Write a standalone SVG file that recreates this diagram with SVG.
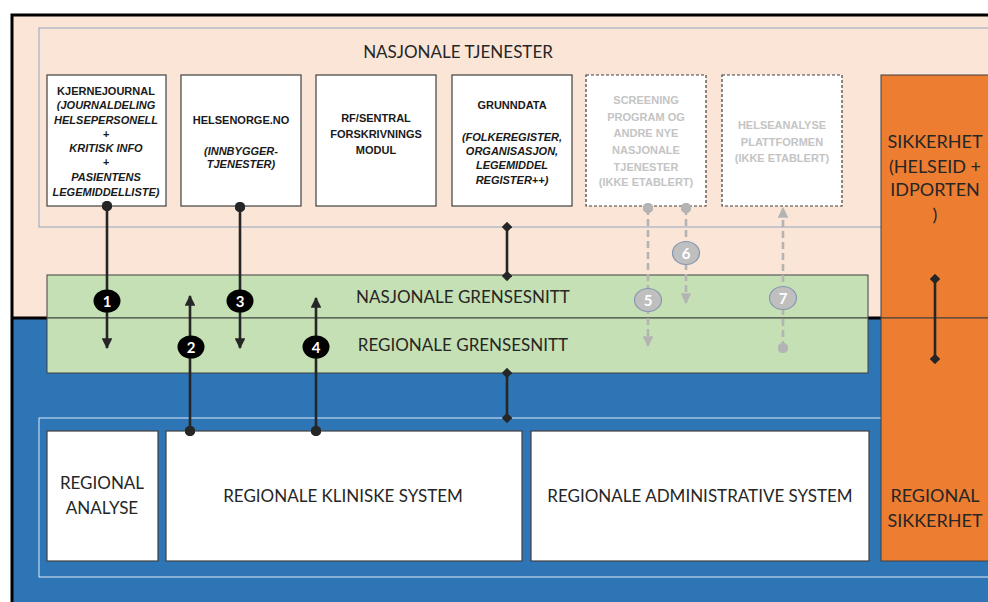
<svg xmlns="http://www.w3.org/2000/svg" width="988" height="602" viewBox="0 0 988 602">
<defs>
<style>
.box{fill:#fff;stroke:#404040;stroke-width:1.2}
.dbox{fill:#fff;stroke:#404040;stroke-width:1.2;stroke-dasharray:3 2}
.t{font-family:Lato,"Open Sans","Liberation Sans",sans-serif;fill:#262626;text-anchor:middle}
.s{font-family:"Liberation Sans",Arial,sans-serif;fill:#1a1a1a;text-anchor:middle;font-weight:bold;font-size:11px}
.bi{font-style:italic}
.g{font-family:"Liberation Sans",Arial,sans-serif;fill:#C4C4C4;text-anchor:middle;font-weight:bold;font-size:11px}
.big{font-size:17px}
.c{stroke:#262626;stroke-width:2.6;fill:none}
.gc{stroke:#B4B4B4;stroke-width:2.6;fill:none;stroke-dasharray:7 4}
.badge{fill:#000}
.gbadge{fill:#BFBFBF;stroke:#8497B0;stroke-width:1.2}
.bt{font-family:Lato,"Liberation Sans",sans-serif;font-weight:bold;font-size:15px;fill:#fff;text-anchor:middle}
</style>
<marker id="arr" viewBox="0 0 10 10" refX="9" refY="5" markerWidth="4.2" markerHeight="4.2" orient="auto"><path d="M0,0L10,5L0,10z" fill="#262626"/></marker>
<marker id="dot" viewBox="0 0 10 10" refX="5" refY="5" markerWidth="4" markerHeight="4"><circle cx="5" cy="5" r="5" fill="#262626"/></marker>
<marker id="dia" viewBox="0 0 10 10" refX="5" refY="5" markerWidth="4" markerHeight="4"><path d="M5,0L10,5L5,10L0,5z" fill="#262626"/></marker>
<marker id="garr" viewBox="0 0 10 10" refX="9" refY="5" markerWidth="4.2" markerHeight="4.2" orient="auto"><path d="M0,0L10,5L0,10z" fill="#B4B4B4"/></marker>
<marker id="gdot" viewBox="0 0 10 10" refX="5" refY="5" markerWidth="4" markerHeight="4"><circle cx="5" cy="5" r="5" fill="#B4B4B4"/></marker>
</defs>
<rect width="988" height="602" fill="#fff"/>
<rect x="12" y="15" width="976" height="303" fill="#FBE5D6"/>
<rect x="12" y="318" width="976" height="284" fill="#2E75B6"/>
<path d="M12,602V15H988" fill="none" stroke="#000" stroke-width="3"/>
<line x1="12" y1="318" x2="988" y2="318" stroke="#000" stroke-width="3"/>
<rect x="39" y="28" width="960" height="199" fill="none" stroke="#8FA5BF" stroke-width="1"/>
<rect x="39" y="418" width="960" height="159" fill="none" stroke="#DEEBF7" stroke-width="1"/>
<text class="t big" x="458" y="58">NASJONALE TJENESTER</text>

<g id="kjernejournal">
<rect class="box" x="47" y="75" width="119" height="131"/>
<text class="s" x="106" y="95">KJERNEJOURNAL</text>
<text class="s bi" x="106" y="109">(JOURNALDELING</text>
<text class="s bi" x="106" y="124">HELSEPERSONELL</text>
<text class="s bi" x="106" y="138">+</text>
<text class="s bi" x="106" y="152">KRITISK INFO</text>
<text class="s bi" x="106" y="166">+</text>
<text class="s bi" x="106" y="181">PASIENTENS</text>
<text class="s bi" x="106" y="196">LEGEMIDDELLISTE)</text>
</g>
<g id="helsenorge">
<rect class="box" x="181" y="75" width="120" height="131"/>
<text class="s" x="241" y="124">HELSENORGE.NO</text>
<text class="s bi" x="241" y="155">(INNBYGGER-</text>
<text class="s bi" x="241" y="168">TJENESTER)</text>
</g>
<g id="rf">
<rect class="box" x="316" y="75" width="120" height="131"/>
<text class="s" x="376" y="122">RF/SENTRAL</text>
<text class="s" x="376" y="138">FORSKRIVNINGS</text>
<text class="s" x="376" y="154">MODUL</text>
</g>
<g id="grunndata">
<rect class="box" x="452" y="75" width="120" height="131"/>
<text class="s" x="512" y="109">GRUNNDATA</text>
<text class="s bi" x="512" y="141">(FOLKEREGISTER,</text>
<text class="s bi" x="512" y="155">ORGANISASJON,</text>
<text class="s bi" x="512" y="169">LEGEMIDDEL</text>
<text class="s bi" x="512" y="184">REGISTER++)</text>
</g>
<g id="screening">
<rect class="dbox" x="586" y="75" width="120" height="131"/>
<text class="g" x="646" y="104">SCREENING</text>
<text class="g" x="646" y="121">PROGRAM OG</text>
<text class="g" x="646" y="137">ANDRE NYE</text>
<text class="g" x="646" y="154">NASJONALE</text>
<text class="g" x="646" y="171">TJENESTER</text>
<text class="g" x="646" y="186">(IKKE ETABLERT)</text>
</g>
<g id="helseanalyse">
<rect class="dbox" x="722" y="75" width="120" height="131"/>
<text class="g" x="782" y="129">HELSEANALYSE</text>
<text class="g" x="782" y="146">PLATTFORMEN</text>
<text class="g" x="782" y="162">(IKKE ETABLERT)</text>
</g>
<g id="sikkerhet">
<rect x="881" y="75" width="110" height="243" fill="#ED7D31" stroke="#404040" stroke-width="1"/>
<text class="t" font-size="18" x="935" y="148">SIKKERHET</text>
<text class="t" font-size="18" x="935" y="173">(HELSEID +</text>
<text class="t" font-size="18" x="935" y="196">IDPORTEN</text>
<text class="t" font-size="18" x="935" y="221">)</text>
</g>
<g id="regional-sikkerhet">
<rect x="881" y="318" width="110" height="243" fill="#ED7D31" stroke="#404040" stroke-width="1"/>
<text class="t" font-size="18" x="935" y="502">REGIONAL</text>
<text class="t" font-size="18" x="935" y="527">SIKKERHET</text>
</g>
<g id="nasjonale-grensesnitt">
<rect x="47" y="275" width="821" height="43" fill="#C5E0B4" stroke="#404040" stroke-width="1"/>
<text class="t big" x="463" y="303">NASJONALE GRENSESNITT</text>
</g>
<g id="regionale-grensesnitt">
<rect x="47" y="318" width="821" height="55" fill="#C5E0B4" stroke="#404040" stroke-width="1"/>
<text class="t big" x="463" y="351">REGIONALE GRENSESNITT</text>
</g>
<g id="regional-analyse">
<rect class="box" x="47" y="431" width="111" height="130"/>
<text class="t big" x="102" y="489">REGIONAL</text>
<text class="t big" x="102" y="514">ANALYSE</text>
</g>
<g id="kliniske">
<rect class="box" x="166" y="431" width="356" height="130"/>
<text class="t big" x="343" y="502">REGIONALE KLINISKE SYSTEM</text>
</g>
<g id="administrative">
<rect class="box" x="531" y="431" width="338" height="130"/>
<text class="t big" x="700" y="502">REGIONALE ADMINISTRATIVE SYSTEM</text>
</g>

<g id="connectors">
<line class="c" x1="107" y1="206" x2="107" y2="348" marker-start="url(#dot)" marker-end="url(#arr)"/>
<line class="c" x1="190" y1="431" x2="190" y2="296" marker-start="url(#dot)" marker-end="url(#arr)"/>
<line class="c" x1="240" y1="207" x2="240" y2="348" marker-start="url(#dot)" marker-end="url(#arr)"/>
<line class="c" x1="316" y1="431" x2="316" y2="298" marker-start="url(#dot)" marker-end="url(#arr)"/>
<line class="c" x1="507" y1="227" x2="507" y2="276" marker-start="url(#dia)" marker-end="url(#dia)"/>
<line class="c" x1="507" y1="373" x2="507" y2="418" marker-start="url(#dia)" marker-end="url(#dia)"/>
<line class="c" x1="935" y1="279" x2="935" y2="359" marker-start="url(#dia)" marker-end="url(#dia)"/>
<line class="gc" x1="648" y1="208" x2="648" y2="346" marker-start="url(#gdot)" marker-end="url(#garr)"/>
<line class="gc" x1="686" y1="208" x2="686" y2="303" marker-start="url(#gdot)" marker-end="url(#garr)"/>
<line class="gc" x1="783" y1="348" x2="783" y2="208" marker-start="url(#gdot)" marker-end="url(#garr)"/>
<ellipse class="badge" cx="107" cy="301" rx="13.5" ry="11.5"/><text class="bt" x="107" y="306.5">1</text>
<ellipse class="badge" cx="191" cy="347" rx="13.5" ry="11.5"/><text class="bt" x="191" y="352.5">2</text>
<ellipse class="badge" cx="240" cy="301" rx="13.5" ry="11.5"/><text class="bt" x="240" y="306.5">3</text>
<ellipse class="badge" cx="316" cy="347" rx="13.5" ry="11.5"/><text class="bt" x="316" y="352.5">4</text>
<ellipse class="gbadge" cx="648" cy="300" rx="13.5" ry="11.5"/><text class="bt" x="648" y="305.5">5</text>
<ellipse class="gbadge" cx="686" cy="253" rx="13.5" ry="11.5"/><text class="bt" x="686" y="258.5">6</text>
<ellipse class="gbadge" cx="783" cy="298" rx="13.5" ry="11.5"/><text class="bt" x="783" y="303.5">7</text>
</g>
</svg>
